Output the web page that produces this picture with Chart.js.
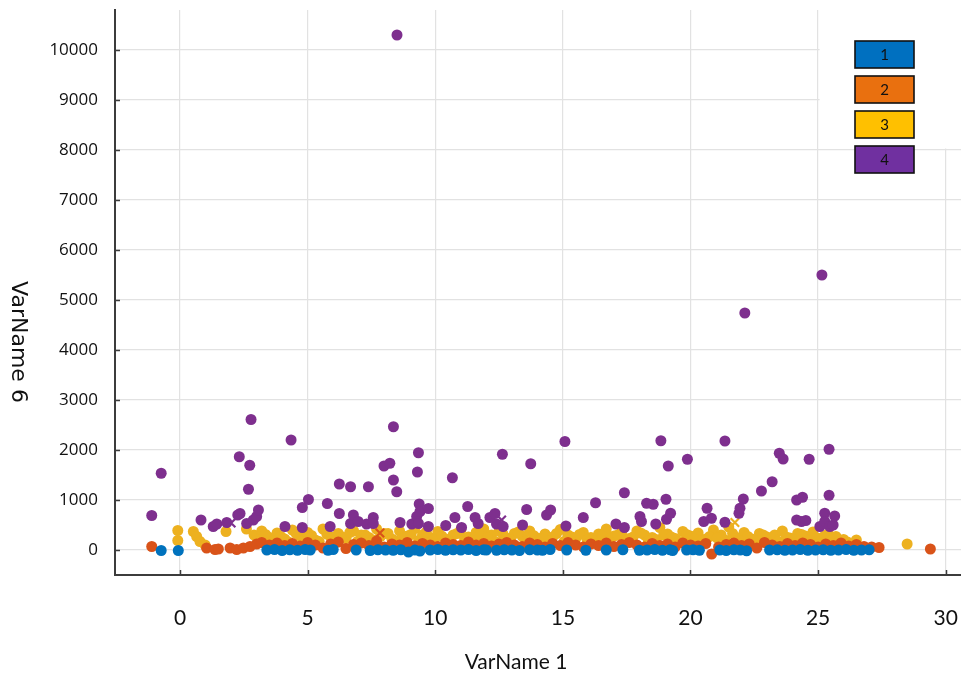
<!DOCTYPE html>
<html>
<head>
<meta charset="utf-8">
<title>VarName 6 vs VarName 1</title>
<script src="https://cdn.jsdelivr.net/npm/chart.js@4/dist/chart.umd.min.js"></script>
<style>
  html, body { margin: 0; padding: 0; background: #ffffff; }
  #wrap { width: 961px; height: 675px; }
</style>
</head>
<body>
<div id="wrap"><canvas id="chart" width="961" height="675"></canvas></div>
<script>
// Group labels, axis titles and tick values
const groupLabels = ['1', '2', '3', '4'];
const xTitleText = 'VarName 1';
const yTitleText = 'VarName 6';
const xTickValues = [0, 5, 10, 15, 20, 25, 30];
const yTickValues = [0, 1000, 2000, 3000, 4000, 5000, 6000, 7000, 8000, 9000, 10000];

// Group 1 (VarName 1, VarName 6)
const group1X = [-0.74, -0.07, 3.4, 3.7, 4.0, 4.3, 4.6, 4.9, 5.1, 5.8, 6.0, 6.9, 7.45, 7.75, 8.05, 8.35,
  8.65, 8.95, 9.2, 9.4, 9.8, 10.1, 10.4, 10.7, 11.0, 11.3, 11.6, 11.9, 12.0, 12.4, 12.7, 13.0, 13.3,
  13.7, 14.0, 14.2, 14.5, 15.15, 15.9, 16.7, 17.35, 18.0, 18.3, 18.6, 18.9, 19.2, 19.3, 19.85, 20.1, 20.35,
  21.15, 21.4, 21.7, 21.95, 22.2, 23.1, 23.4, 23.7, 24.0, 24.3, 24.6, 24.9, 25.2, 25.5, 25.8, 26.1, 26.4, 26.7, 27.0];
const group1Y = [-10, -10, 0, 10, -10, 5, -5, 10, 0, -5, 10, 0, -10, 5, 0, -5,
  5, -40, 0, -20, 0, 10, -5, 5, 0, 10, -10, 5, 0, -5, 5, 0, -10,
  5, 0, -5, 10, 0, -5, 0, 5, -5, 0, 10, -5, 5, -10, 0, 5, -5,
  0, -10, 5, 0, -15, 0, 5, -5, 0, 10, -5, 0, 5, -5, 0, 10, -5, 0, 5];

// Group 2
const group2X = [-1.11, 1.04, 1.37, 1.5, 1.96, 2.22, 2.48, 2.74, 3.0, 3.2, 3.5, 3.8, 4.1, 4.4, 4.7, 5.0,
  5.3, 5.6, 5.9, 6.2, 6.5, 6.8, 7.1, 7.4, 7.7, 8.0, 8.3, 8.6, 8.9, 9.2, 9.5, 9.8, 10.1, 10.4, 10.7,
  11.0, 11.3, 11.6, 11.9, 12.2, 12.5, 12.8, 13.1, 13.4, 13.7, 14.0, 14.3, 14.6, 14.9, 15.2, 15.5, 15.8,
  16.1, 16.4, 16.7, 17.0, 17.3, 17.6, 17.9, 18.2, 18.5, 18.8, 19.1, 19.4, 19.7, 20.0, 20.3, 20.6, 20.83,
  21.1, 21.4, 21.7, 22.0, 22.3, 22.6, 22.9, 23.2, 23.5, 23.8, 24.1, 24.4, 24.7, 25.0, 25.3, 25.6, 25.9,
  26.2, 26.5, 26.8, 27.1, 27.39, 29.4];
const group2Y = [70, 40, 10, 20, 40, 10, 40, 70, 120, 150, 100, 140, 90, 130, 80, 150,
  100, 40, 120, 160, 30, 110, 140, 90, 180, 60, 120, 100, 150, 80, 130, 100, 70, 140, 110,
  90, 160, 100, 130, 80, 120, 150, 100, 70, 140, 110, 60, 130, 90, 150, 100, 60,
  120, 90, 140, 70, 110, 150, 100, 60, 130, 90, 120, 60, 140, 100, 80, 130, -80,
  60, 110, 140, 90, 120, 40, 150, 100, 70, 130, 90, 140, 110, 60, 120, 90, 140,
  80, 110, 70, 60, 50, 20];

// Group 3
const group3X = [-0.09, -0.09, 0.52, 0.65, 0.78, 0.98, 1.8, 2.6, 2.9, 3.2, 3.5, 3.8, 4.1, 4.4, 4.7, 5.0,
  5.3, 5.6, 5.9, 6.2, 6.5, 6.8, 7.1, 7.4, 7.7, 8.0, 8.3, 8.6, 8.9, 9.2, 9.5, 9.8, 10.1, 10.4, 10.7,
  11.0, 11.3, 11.6, 11.9, 12.2, 12.5, 12.8, 13.1, 13.4, 13.7, 14.0, 14.3, 14.6, 14.9, 15.2, 15.5, 15.8,
  16.1, 16.4, 16.7, 17.0, 17.3, 17.6, 17.9, 18.2, 18.5, 18.8, 19.1, 19.4, 19.7, 20.0, 20.3, 20.6, 20.9,
  21.2, 21.5, 21.8, 22.1, 22.4, 22.7, 23.0, 23.3, 23.6, 23.9, 24.2, 24.5, 24.8, 25.1, 25.4, 25.7, 26.0,
  26.5, 28.49,
  3.05, 3.35, 3.65, 3.95, 4.25, 4.55, 4.85, 5.15, 5.45, 5.75, 6.05, 6.35, 6.65, 6.95, 7.25, 7.55,
  7.85, 8.15, 8.45, 8.75, 9.05, 9.35, 9.65, 9.95, 10.25, 10.55, 10.85, 11.15, 11.45, 11.75, 12.05,
  12.35, 12.65, 12.95, 13.25, 13.55, 13.85, 14.15, 14.45, 14.75, 15.05, 15.35, 15.65, 15.95, 16.25,
  16.55, 16.85, 17.15, 17.45, 17.75, 18.05, 18.35, 18.65, 18.95, 19.25, 19.55, 19.85, 20.15, 20.45,
  20.75, 21.05, 21.35, 21.65, 21.95, 22.25, 22.55, 22.85, 23.15, 23.45, 23.75, 24.05, 24.35, 24.65,
  24.95, 25.25, 25.55, 25.85, 26.15];
const group3Y = [390, 190, 370, 270, 170, 100, 370, 420, 300, 380, 250, 340, 220, 400, 280, 350,
  200, 420, 260, 330, 230, 380, 300, 250, 420, 330, 220, 380, 280, 430, 300, 250, 370, 220, 300,
  400, 260, 350, 420, 300, 380, 240, 330, 280, 380, 240, 320, 260, 410, 300, 220, 350,
  250, 320, 420, 280, 350, 230, 380, 300, 250, 450, 320, 230, 370, 280, 340, 220, 400,
  300, 460, 250, 350, 220, 330, 260, 300, 380, 240, 330, 280, 360, 230, 320, 270, 210,
  200, 120,
  200, 310, 180, 270, 160, 330, 210, 290, 170, 320, 190, 260, 350, 170, 300, 200,
  270, 330, 180, 240, 310, 190, 360, 200, 280, 170, 330, 220, 190, 300, 240,
  170, 320, 210, 360, 180, 290, 220, 190, 330, 170, 260, 310, 200, 180,
  280, 230, 300, 190, 260, 340, 180, 210, 300, 260, 170, 310, 220, 190,
  270, 240, 200, 330, 180, 270, 190, 300, 220, 170, 260, 200, 310, 190,
  240, 280, 200, 170, 160];

// Group 4
const group4X = [-1.11, -0.74, 0.82, 1.3, 1.44, 1.83, 2.26, 2.32, 2.35, 2.61, 2.68, 2.73, 2.78, 2.87, 3.0, 3.07,
  4.11, 4.35, 4.79, 4.79, 5.03, 5.77, 5.88, 6.24, 6.24, 6.68, 6.68, 6.79, 6.98, 7.31, 7.38, 7.57, 7.57,
  7.99, 8.22, 8.36, 8.36, 8.49, 8.5, 8.62, 9.08, 9.27, 9.3, 9.34, 9.34, 9.37, 9.4, 9.73, 9.73,
  10.41, 10.67, 10.77, 11.03, 11.27, 11.56, 11.68, 12.14, 12.34, 12.4, 12.63, 12.66, 13.42, 13.58, 13.74,
  14.36, 14.52, 15.08, 15.12, 15.8, 16.28, 17.08, 17.41, 17.41, 18.02, 18.08, 18.28, 18.54, 18.64, 18.84,
  19.04, 19.06, 19.13, 19.22, 19.88, 20.52, 20.65, 20.82, 21.35, 21.35, 21.9, 21.94, 22.07, 22.13, 22.78,
  23.2, 23.48, 23.63, 24.16, 24.16, 24.35, 24.39, 24.52, 24.65, 25.07, 25.15, 25.26, 25.26, 25.43, 25.43,
  25.46, 25.59, 25.65];
const group4Y = [690, 1535, 600, 470, 520, 550, 700, 1865, 730, 530, 1215, 1695, 2610, 600, 670, 800,
  470, 2200, 450, 850, 1010, 930, 470, 1320, 730, 1265, 530, 700, 570, 520, 1265, 650, 530,
  1680, 1735, 2465, 1400, 1165, 10300, 550, 520, 670, 1560, 1945, 530, 920, 770, 830, 470,
  490, 1445, 650, 450, 870, 650, 530, 650, 730, 520, 1915, 470, 500, 810, 1725,
  700, 800, 2170, 480, 650, 945, 520, 1145, 450, 670, 570, 935, 915, 520, 2185,
  1015, 615, 1680, 735, 1815, 570, 835, 635, 2180, 555, 735, 835, 1020, 4740, 1180,
  1365, 1935, 1820, 1000, 600, 570, 1055, 590, 1815, 470, 5500, 735, 570, 2015, 1095,
  470, 500, 680];

// Points plotted with an x marker instead of a dot
const group2CrossX = [7.83];
const group2CrossY = [340];
const group3CrossX = [21.74];
const group3CrossY = [550];
const group4CrossX = [2.0, 12.6];
const group4CrossY = [540, 600];

const pointColors = ['rgb(0,114,189)', 'rgb(217,83,25)', 'rgb(237,177,32)', 'rgb(126,47,142)'];
const swatchColors = ['#0070c0', '#e9700f', '#ffc000', '#7030a0'];

const toPoints = (xs, ys) => xs.map((x, i) => ({ x: x, y: ys[i] }));

function dotSet(label, xs, ys, color, order) {
  return {
    label: label,
    data: toPoints(xs, ys),
    backgroundColor: color,
    borderColor: color,
    borderWidth: 0,
    pointRadius: 5.5,
    pointHoverRadius: 5.5,
    order: order
  };
}
function crossSet(label, xs, ys, color, order) {
  return {
    label: label,
    data: toPoints(xs, ys),
    backgroundColor: color,
    borderColor: color,
    borderWidth: 2.2,
    pointStyle: 'crossRot',
    pointRadius: 6,
    pointHoverRadius: 6,
    order: order
  };
}

const datasets = [
  dotSet(groupLabels[0], group1X, group1Y, pointColors[0], 0),
  dotSet(groupLabels[1], group2X, group2Y, pointColors[1], 1),
  dotSet(groupLabels[2], group3X, group3Y, pointColors[2], 3),
  dotSet(groupLabels[3], group4X, group4Y, pointColors[3], 2),
  crossSet(groupLabels[1], group2CrossX, group2CrossY, pointColors[1], 1),
  crossSet(groupLabels[2], group3CrossX, group3CrossY, pointColors[2], 3),
  crossSet(groupLabels[3], group4CrossX, group4CrossY, pointColors[3], 2)
];

// Blank panel behind the legend in the upper right corner of the plot
const legendPanel = {
  id: 'legendPanel',
  beforeDatasetsDraw(chart) {
    const { ctx, chartArea } = chart;
    const xs = chart.scales.x, ys = chart.scales.y;
    const x25 = xs.getPixelForValue(25);
    const y8000 = ys.getPixelForValue(8000);
    ctx.save();
    ctx.fillStyle = '#ffffff';
    ctx.fillRect(x25 + 1.5, chartArea.top - 2, chartArea.right - x25, y8000 - chartArea.top + 0.5);
    ctx.restore();
  }
};

// Short inward tick marks on both axes
const innerTicks = {
  id: 'innerTicks',
  afterDatasetsDraw(chart) {
    const { ctx, chartArea } = chart;
    const xs = chart.scales.x, ys = chart.scales.y;
    ctx.save();
    ctx.strokeStyle = '#3c3c3c';
    ctx.lineWidth = 1.5;
    ctx.beginPath();
    xTickValues.forEach(v => {
      const px = Math.round(xs.getPixelForValue(v)) + 0.5;
      ctx.moveTo(px, chartArea.bottom);
      ctx.lineTo(px, chartArea.bottom - 5);
    });
    yTickValues.forEach(v => {
      const py = Math.round(ys.getPixelForValue(v)) + 0.5;
      ctx.moveTo(chartArea.left, py);
      ctx.lineTo(chartArea.left + 5, py);
    });
    ctx.stroke();
    ctx.restore();
  }
};

// Stacked legend: one outlined coloured box per group, label inside
const boxLegend = {
  id: 'boxLegend',
  afterDraw(chart) {
    const ctx = chart.ctx;
    const w = 59, h = 27, step = 35;
    const x0 = chart.width - 106, y0 = 41;
    ctx.save();
    ctx.font = '15px Lato, "Open Sans", sans-serif';
    ctx.textAlign = 'center';
    ctx.textBaseline = 'middle';
    groupLabels.forEach((lab, i) => {
      const y = y0 + i * step;
      ctx.fillStyle = swatchColors[i];
      ctx.fillRect(x0, y, w, h);
      ctx.strokeStyle = '#111111';
      ctx.lineWidth = 1.6;
      ctx.strokeRect(x0, y, w, h);
      ctx.fillStyle = '#111111';
      ctx.fillText(lab, x0 + w / 2, y + h / 2 + 1);
    });
    ctx.restore();
  }
};

// Axis titles: horizontal one under the tick labels, vertical one reading top to bottom
const axisTitles = {
  id: 'axisTitles',
  afterDraw(chart) {
    const ctx = chart.ctx;
    ctx.save();
    ctx.fillStyle = '#111111';
    ctx.textAlign = 'center';
    ctx.textBaseline = 'middle';
    ctx.font = '21px Lato, "Open Sans", sans-serif';
    ctx.fillText(xTitleText, 516, 662);
    ctx.translate(18, 342);
    ctx.rotate(Math.PI / 2);
    ctx.font = '22px "DejaVu Sans", sans-serif';
    ctx.fillText(yTitleText, 0, 0);
    ctx.restore();
  }
};

new Chart(document.getElementById('chart'), {
  type: 'scatter',
  data: { datasets: datasets },
  options: {
    responsive: false,
    animation: false,
    devicePixelRatio: 1,
    layout: { autoPadding: false, padding: { top: 10, left: 0, right: 0, bottom: 0 } },
    plugins: {
      legend: { display: false },
      tooltip: { enabled: false }
    },
    scales: {
      x: {
        type: 'linear',
        position: 'bottom',
        min: -2.55,
        max: 30.6,
        afterBuildTicks: s => { s.ticks = xTickValues.map(v => ({ value: v })); },
        afterFit: s => { s.height = 100; s.paddingLeft = 0; s.paddingRight = 0; },
        grid: { color: '#e2e2e2', lineWidth: 1.2, drawTicks: false },
        border: { display: true, color: '#3c3c3c', width: 2 },
        ticks: {
          font: { family: 'Lato, "Open Sans", sans-serif', size: 21 },
          color: '#111111',
          padding: 31,
          maxRotation: 0
        }
      },
      y: {
        type: 'linear',
        position: 'left',
        min: -500,
        max: 10800,
        afterBuildTicks: s => { s.ticks = yTickValues.map(v => ({ value: v })); },
        afterFit: s => { s.width = 115; s.paddingTop = 0; s.paddingBottom = 0; },
        grid: { color: '#e2e2e2', lineWidth: 1.2, drawTicks: false },
        border: { display: true, color: '#3c3c3c', width: 2 },
        ticks: {
          font: { family: '"Open Sans", sans-serif', size: 17 },
          color: '#111111',
          padding: 17,
          callback: v => String(v)
        }
      }
    }
  },
  plugins: [legendPanel, innerTicks, boxLegend, axisTitles]
});
</script>
</body>
</html>
